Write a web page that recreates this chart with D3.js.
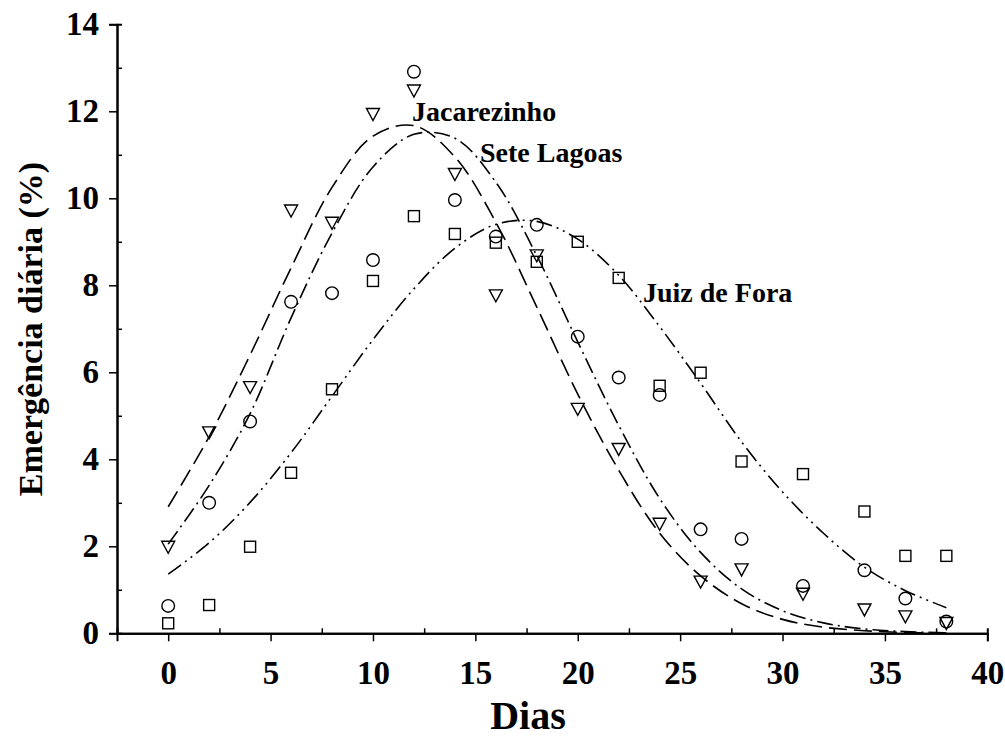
<!DOCTYPE html>
<html>
<head>
<meta charset="utf-8">
<script src="https://cdn.jsdelivr.net/npm/d3@7"></script>
<style>
	body { margin: 0; background: #fff; }
	svg text { font-family: "Liberation Serif", "Times New Roman", serif; font-weight: bold; fill: #000; }
</style>
</head>
<body>
<div class="svg"></div>
<script>
// sampling days of the observations
var days = [0, 2, 4, 6, 8, 10, 12, 14, 16, 18, 20, 22, 24, 26, 28, 31, 34, 36, 38];

// observed daily emergence (%)
var jacarezinho = [2.0, 4.63, 5.67, 9.73, 9.45, 11.95, 12.49, 10.57, 7.78, 8.70, 5.17, 4.25, 2.53, 1.20, 1.48, 0.92, 0.56, 0.40, 0.25];
var seteLagoas = [0.63, 3.0, 4.87, 7.62, 7.82, 8.58, 12.91, 9.96, 9.12, 9.39, 6.82, 5.88, 5.48, 2.39, 2.17, 1.09, 1.45, 0.80, 0.27];
var juizDeFora = [0.23, 0.65, 1.99, 3.69, 5.61, 8.10, 9.59, 9.18, 8.98, 8.54, 9.0, 8.17, 5.69, 5.99, 3.95, 3.66, 2.80, 1.78, 1.78];

// fitted curves, every 2 days
var curveDays = [0, 2, 4, 6, 8, 10, 12, 14, 16, 18, 20, 22, 24, 26, 28, 30, 32, 34, 36, 38];
var fitJacarezinho = [2.91, 4.52, 6.40, 8.40, 10.25, 11.43, 11.67, 10.95, 9.45, 7.50, 5.50, 3.75, 2.30, 1.32, 0.68, 0.32, 0.14, 0.06, 0.02, 0.01];
var fitSeteLagoas = [2.05, 3.40, 5.05, 7.25, 9.20, 10.72, 11.47, 11.38, 10.37, 8.68, 6.70, 4.78, 3.10, 1.86, 1.02, 0.52, 0.24, 0.10, 0.04, 0.01];
var fitJuizDeFora = [1.36, 2.08, 3.01, 4.15, 5.45, 6.75, 7.92, 8.85, 9.40, 9.47, 9.06, 8.23, 7.05, 5.75, 4.40, 3.25, 2.30, 1.52, 0.98, 0.59];

var xTicks = [0, 5, 10, 15, 20, 25, 30, 35, 40];
var xMinor = [2.5, 7.5, 12.5, 17.5, 22.5, 27.5, 32.5, 37.5];
var yTicks = [0, 2, 4, 6, 8, 10, 12, 14];
var yMinor = [1, 3, 5, 7, 9, 11, 13];

var app = function() {
	var svg, x, y;
	var width = 1005, height = 745;

	return {
		init: function() {
			svg = d3.select('body .svg').append('svg')
				.attr('width', width)
				.attr('height', height);

			x = d3.scaleLinear().domain([-2.5, 40]).range([117, 987.3]);
			y = d3.scaleLinear().domain([0, 14]).range([633.3, 24.3]);

			this.createAxes();
			this.createCurves();
			this.createPoints();
			this.createLabels();
		},

		createAxes: function() {
			var gx = svg.append('g').attr('transform', 'translate(0,' + y(0) + ')');
			// major ticks outside, minor ones inside
			gx.call(d3.axisBottom(x).tickValues(xTicks).tickSize(8).tickPadding(19).tickFormat(d3.format('d')));
			gx.append('g').call(d3.axisTop(x).tickValues(xMinor).tickSize(5).tickFormat(''));

			var gy = svg.append('g').attr('transform', 'translate(' + x(-2.5) + ',0)');
			gy.call(d3.axisLeft(y).tickValues(yTicks).tickSize(8).tickPadding(10).tickFormat(d3.format('d')));
			gy.append('g').call(d3.axisRight(y).tickValues(yMinor).tickSize(5).tickFormat(''));

			svg.selectAll('.domain').attr('stroke', '#000').attr('stroke-width', 2);
			svg.selectAll('.tick line').attr('stroke', '#000').attr('stroke-width', 1.5);
			svg.selectAll('.tick text').style('font-size', '33px');

			svg.append('text')
				.attr('x', 528).attr('y', 729)
				.attr('text-anchor', 'middle')
				.style('font-size', '40px')
				.text('Dias');

			svg.append('text')
				.attr('transform', 'translate(42,' + 329 + ') rotate(-90)')
				.attr('text-anchor', 'middle')
				.style('font-size', '34px')
				.text('Emergência diária (%)');
		},

		createCurves: function() {
			var line = d3.line()
				.x(function(d) { return x(d[0]); })
				.y(function(d) { return y(d[1]); })
				.curve(d3.curveCatmullRom);

			var curves = [
				{ values: fitJacarezinho, dash: '18,7' },
				{ values: fitSeteLagoas, dash: '16,5,2,5' },
				{ values: fitJuizDeFora, dash: '16,5,2,5,2,5' }
			];

			svg.selectAll('path.fit')
				.data(curves)
			.enter().append('path')
				.attr('class', 'fit')
				.attr('fill', 'none')
				.attr('stroke', '#000')
				.attr('stroke-width', 1.6)
				.attr('stroke-dasharray', function(d) { return d.dash; })
				.attr('d', function(d) {
					return line(d.values.map(function(v, i) { return [curveDays[i], v]; }));
				});
		},

		createPoints: function() {
			var pts = function(vals) {
				return vals.map(function(v, i) { return [days[i], v]; });
			};

			svg.selectAll('circle.obs')
				.data(pts(seteLagoas))
			.enter().append('circle')
				.attr('class', 'obs')
				.attr('cx', function(d) { return x(d[0]); })
				.attr('cy', function(d) { return y(d[1]); })
				.attr('r', 6.3)
				.attr('fill', 'none')
				.attr('stroke', '#000')
				.attr('stroke-width', 1.4);

			svg.selectAll('rect.obs')
				.data(pts(juizDeFora))
			.enter().append('rect')
				.attr('class', 'obs')
				.attr('x', function(d) { return x(d[0]) - 5.5; })
				.attr('y', function(d) { return y(d[1]) - 5.5; })
				.attr('width', 11)
				.attr('height', 11)
				.attr('fill', 'none')
				.attr('stroke', '#000')
				.attr('stroke-width', 1.4);

			// downward triangles
			svg.selectAll('path.obs')
				.data(pts(jacarezinho))
			.enter().append('path')
				.attr('class', 'obs')
				.attr('d', function(d) {
					var cx = x(d[0]), cy = y(d[1]);
					return 'M' + (cx - 6.5) + ',' + (cy - 5) + 'L' + (cx + 6.5) + ',' + (cy - 5) + 'L' + cx + ',' + (cy + 7) + 'Z';
				})
				.attr('fill', 'none')
				.attr('stroke', '#000')
				.attr('stroke-width', 1.4);
		},

		createLabels: function() {
			var labels = [
				{ text: 'Jacarezinho', x: 412, y: 121 },
				{ text: 'Sete Lagoas', x: 480, y: 162 },
				{ text: 'Juiz de Fora', x: 643, y: 302 }
			];
			svg.selectAll('text.lbl')
				.data(labels)
			.enter().append('text')
				.attr('class', 'lbl')
				.attr('x', function(d) { return d.x; })
				.attr('y', function(d) { return d.y; })
				.style('font-size', '28px')
				.text(function(d) { return d.text; });
		}
	};
}();

app.init();
</script>
</body>
</html>
